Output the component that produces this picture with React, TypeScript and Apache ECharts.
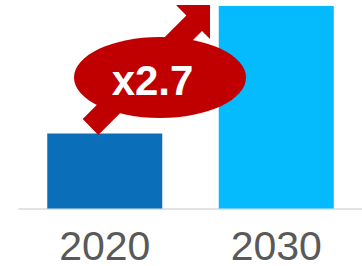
import React, { useEffect, useRef } from "react";
import * as echarts from "echarts";

const categories = ["2020", "2030"];
const values = [1, 2.7];
const barColors = ["#0B6EB8", "#05BBFE"];
const multiplierLabel = "x2.7";

export default function App() {
  const ref = useRef<HTMLDivElement>(null);
  useEffect(() => {
    if (!ref.current) return;
    const chart = echarts.init(ref.current, null, { renderer: "svg" });
    const red = "#C00000";
    chart.setOption({
      animation: false,
      backgroundColor: "#ffffff",
      grid: { left: 19, width: 344, top: 6, bottom: 57 },
      xAxis: {
        type: "category",
        data: categories,
        axisLine: { show: true, lineStyle: { color: "#D9D9D9", width: 1.5 } },
        axisTick: { show: false },
        axisLabel: {
          color: "#595959",
          fontSize: 41,
          lineHeight: 32,
          fontFamily: "Liberation Sans, Arial, sans-serif",
          margin: 21,
        },
      },
      yAxis: {
        type: "value",
        min: 0,
        max: 2.7,
        show: false,
        splitLine: { show: false },
      },
      series: [
        {
          type: "bar",
          barWidth: 115,
          data: values.map((v, i) => ({ value: v, itemStyle: { color: barColors[i] } })),
        },
      ],
      graphic: [
        {
          type: "polygon",
          z: 100,
          shape: {
            points: [
              [82.7, 119],
              [98.3, 135],
              [202, 31],
              [210, 39],
              [210, 5],
              [176, 5],
              [186.4, 15.4],
            ],
          },
          style: { fill: red },
        },
        {
          type: "ellipse",
          z: 101,
          shape: { cx: 160, cy: 77.5, rx: 86, ry: 40.5 },
          style: { fill: red },
        },
        {
          type: "text",
          z: 102,
          x: 152.5,
          y: 80,
          style: {
            text: multiplierLabel,
            fill: "#ffffff",
            font: "bold 42px 'Liberation Sans', Arial, sans-serif",
            align: "center",
            verticalAlign: "middle",
          },
        },
      ],
    });
    return () => chart.dispose();
  }, []);
  return (
    <div
      ref={ref}
      style={{ position: "fixed", left: 0, top: 0, width: 362, height: 266 }}
    />
  );
}
